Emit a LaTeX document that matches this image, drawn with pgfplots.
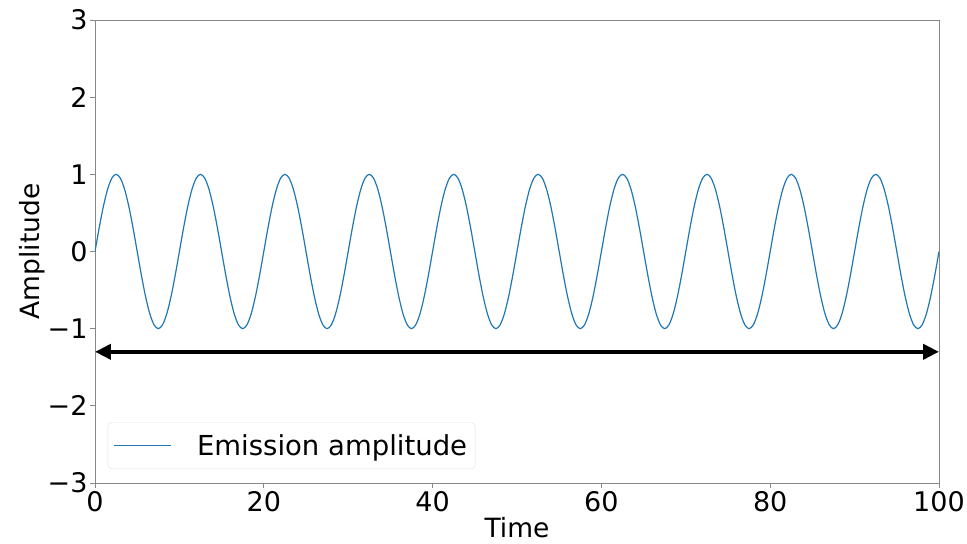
\documentclass[border=0pt]{standalone}
\usepackage{fontspec}
\setmainfont{DejaVu Sans}
\usepackage{pgfplots}
\pgfplotsset{compat=1.18}
\usetikzlibrary{arrows.meta}
\definecolor{mplblue}{HTML}{1F77B4}
\definecolor{spine}{HTML}{888888}

\begin{document}
\begin{tikzpicture}
\begin{axis}[
    name=ax,
    scale only axis,
    width=844pt, height=463pt,
    xmin=0, xmax=100, ymin=-3, ymax=3,
    xtick={0,20,40,60,80,100},
    ytick={-3,-2,-1,0,1,2,3},
    yticklabels={−3,−2,−1,0,1,2,3},
    xtick pos=left, ytick pos=left,
    /pgf/number format/assume math mode=true,
    tick align=outside,
    major tick length=5pt,
    tick style={spine, line width=0.8pt},
    axis line style={spine, line width=0.8pt},
    every tick label/.append style={font=\fontsize{27}{32}\selectfont, black},
    xticklabel style={yshift=0pt},
    yticklabel style={xshift=1pt},
    xlabel={Time}, ylabel={Amplitude},
    label style={font=\fontsize{26.5}{31}\selectfont},
    xlabel style={yshift=1pt},
    ylabel style={yshift=-4pt},
    legend style={at={(0.015,0.03)}, anchor=south west,
        draw=black!12, rounded corners=4pt,
        font=\fontsize{27.5}{32}\selectfont,
        inner xsep=6pt, inner ysep=10pt},
    legend cell align=left,
    legend image code/.code={\draw[#1] (0pt,0pt) -- (57pt,0pt); \path (80pt,0pt);},
]
\addplot[mplblue, line width=1.2pt, smooth, tension=0.5] coordinates {
(0,0) (0.5,0.309) (1,0.588) (1.5,0.809) (2,0.951) (2.5,1) (3,0.951) (3.5,0.809) (4,0.588) (4.5,0.309) (5,0) (5.5,-0.309) (6,-0.588) (6.5,-0.809) (7,-0.951) (7.5,-1) (8,-0.951) (8.5,-0.809) (9,-0.588) (9.5,-0.309)
(10,0) (10.5,0.309) (11,0.588) (11.5,0.809) (12,0.951) (12.5,1) (13,0.951) (13.5,0.809) (14,0.588) (14.5,0.309) (15,0) (15.5,-0.309) (16,-0.588) (16.5,-0.809) (17,-0.951) (17.5,-1) (18,-0.951) (18.5,-0.809) (19,-0.588) (19.5,-0.309)
(20,0) (20.5,0.309) (21,0.588) (21.5,0.809) (22,0.951) (22.5,1) (23,0.951) (23.5,0.809) (24,0.588) (24.5,0.309) (25,0) (25.5,-0.309) (26,-0.588) (26.5,-0.809) (27,-0.951) (27.5,-1) (28,-0.951) (28.5,-0.809) (29,-0.588) (29.5,-0.309)
(30,0) (30.5,0.309) (31,0.588) (31.5,0.809) (32,0.951) (32.5,1) (33,0.951) (33.5,0.809) (34,0.588) (34.5,0.309) (35,0) (35.5,-0.309) (36,-0.588) (36.5,-0.809) (37,-0.951) (37.5,-1) (38,-0.951) (38.5,-0.809) (39,-0.588) (39.5,-0.309)
(40,0) (40.5,0.309) (41,0.588) (41.5,0.809) (42,0.951) (42.5,1) (43,0.951) (43.5,0.809) (44,0.588) (44.5,0.309) (45,0) (45.5,-0.309) (46,-0.588) (46.5,-0.809) (47,-0.951) (47.5,-1) (48,-0.951) (48.5,-0.809) (49,-0.588) (49.5,-0.309)
(50,0) (50.5,0.309) (51,0.588) (51.5,0.809) (52,0.951) (52.5,1) (53,0.951) (53.5,0.809) (54,0.588) (54.5,0.309) (55,0) (55.5,-0.309) (56,-0.588) (56.5,-0.809) (57,-0.951) (57.5,-1) (58,-0.951) (58.5,-0.809) (59,-0.588) (59.5,-0.309)
(60,0) (60.5,0.309) (61,0.588) (61.5,0.809) (62,0.951) (62.5,1) (63,0.951) (63.5,0.809) (64,0.588) (64.5,0.309) (65,0) (65.5,-0.309) (66,-0.588) (66.5,-0.809) (67,-0.951) (67.5,-1) (68,-0.951) (68.5,-0.809) (69,-0.588) (69.5,-0.309)
(70,0) (70.5,0.309) (71,0.588) (71.5,0.809) (72,0.951) (72.5,1) (73,0.951) (73.5,0.809) (74,0.588) (74.5,0.309) (75,0) (75.5,-0.309) (76,-0.588) (76.5,-0.809) (77,-0.951) (77.5,-1) (78,-0.951) (78.5,-0.809) (79,-0.588) (79.5,-0.309)
(80,0) (80.5,0.309) (81,0.588) (81.5,0.809) (82,0.951) (82.5,1) (83,0.951) (83.5,0.809) (84,0.588) (84.5,0.309) (85,0) (85.5,-0.309) (86,-0.588) (86.5,-0.809) (87,-0.951) (87.5,-1) (88,-0.951) (88.5,-0.809) (89,-0.588) (89.5,-0.309)
(90,0) (90.5,0.309) (91,0.588) (91.5,0.809) (92,0.951) (92.5,1) (93,0.951) (93.5,0.809) (94,0.588) (94.5,0.309) (95,0) (95.5,-0.309) (96,-0.588) (96.5,-0.809) (97,-0.951) (97.5,-1) (98,-0.951) (98.5,-0.809) (99,-0.588) (99.5,-0.309)
(100,0)
};
\addlegendentry{Emission amplitude}
\draw[line width=4pt, {Triangle[length=16pt,width=15pt]}-{Triangle[length=16pt,width=15pt]}]
    (axis cs:0,-1.3) -- (axis cs:100,-1.3);
\end{axis}
\pgfresetboundingbox
\path ([shift={(-95pt,-61pt)}]ax.south west) rectangle ([shift={(28pt,20pt)}]ax.north east);
\end{tikzpicture}
\end{document}
